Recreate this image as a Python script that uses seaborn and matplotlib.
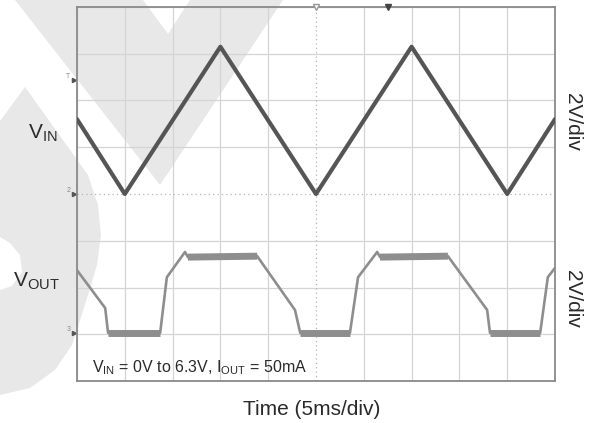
import numpy as np
import matplotlib.pyplot as plt
import matplotlib.transforms as mtransforms
import seaborn as sns

vin_time = [0, 5, 15, 25, 35, 45, 50]
vin_volts = [3.2, 0.0, 6.3, 0.0, 6.3, 0.0, 3.2]

vout_time = [0, 2.95, 3.25, 8.7, 9.4, 11.3, 11.6, 18.85, 22.8, 23.35,
             28.55, 29.4, 31.4, 31.7, 38.8, 42.9, 43.2, 48.45, 49.25, 50]
vout_volts = [2.68, 1.06, 0.0, 0.0, 2.38, 3.46, 3.24, 3.28, 0.98, 0.0,
              0.0, 2.38, 3.46, 3.24, 3.28, 0.98, 0.0, 0.0, 2.38, 2.78]

# escalas do osciloscopio
ms_per_div = 5
volts_per_div = 2
vin_ground = 4.0     # div
vout_ground = 1.03   # div
trigger_level = 6.44 # div
trigger_time = 32.5  # ms

sns.set_style("white")
plt.rcParams['font.family'] = ['Liberation Sans', 'DejaVu Sans']
plt.rcParams['mathtext.fontset'] = 'custom'
plt.rcParams['mathtext.rm'] = 'Liberation Sans'

W, H = 598, 423
fig = plt.figure(figsize=(W / 100, H / 100), dpi=100)

# marca d'agua clara no fundo (pixels da figura)
bg = fig.add_axes([0, 0, 1, 1], zorder=0)
bg.set_xlim(0, W)
bg.set_ylim(H, 0)
bg.axis('off')
chevron = [(15, 0), (143, 0), (168, 34), (190, 0), (283, 0), (160, 185)]
blob = [(25, 87), (88, 175), (98, 205), (101, 235), (97, 265), (88, 295),
        (80, 320), (72, 345), (55, 370), (30, 388), (0, 395), (0, 290),
        (12, 286), (22, 272), (20, 255), (10, 243), (0, 237), (0, 121)]
for poly in [chevron, blob]:
    xs, ys = zip(*poly)
    bg.fill(xs, ys, color='#e8e8e8', lw=0)

ax = fig.add_axes([77 / W, 1 - 381 / H, 478 / W, 374 / H], zorder=1)
ax.set_facecolor('none')

n_x, n_y = 10, 8
ax.set_xlim(0, n_x * ms_per_div)
ax.set_ylim(0, n_y)
xt = [i * ms_per_div for i in range(n_x + 1) if i != n_x // 2]
yt = [j for j in range(n_y + 1) if j != n_y // 2]
ax.set_xticks(xt)
ax.set_yticks(yt)
ax.grid(True, color='#d4d4d4', lw=0.9)
ax.axvline(n_x // 2 * ms_per_div, color='#b5b5b5', lw=0.9, ls=(0, (1, 2.5)))
ax.axhline(n_y // 2, color='#b5b5b5', lw=0.9, ls=(0, (1, 2.5)))
ax.tick_params(length=0, labelbottom=False, labelleft=False)
for s in ax.spines.values():
    s.set_color('#8a8a8a')
    s.set_linewidth(1.3)

# tracos
vin_div = np.array(vin_volts) / volts_per_div + vin_ground
vout_div = np.array(vout_volts) / volts_per_div + vout_ground

sns.lineplot(x=vin_time, y=vin_div, ax=ax, color='#555555', linewidth=3.0,
             zorder=4)
sns.lineplot(x=vout_time, y=vout_div, ax=ax, color='#8e8e8e', linewidth=1.9,
             zorder=3)
# patamares com ruido ficam mais grossos
for i in range(len(vout_time) - 1):
    if abs(vout_volts[i + 1] - vout_volts[i]) < 0.1 and vout_time[i + 1] - vout_time[i] > 2:
        ax.plot(vout_time[i:i + 2], vout_div[i:i + 2], color='#8e8e8e', lw=5.0,
                solid_capstyle='butt', zorder=3)

# marcadores do osciloscopio
top = mtransforms.blended_transform_factory(ax.transData, ax.transAxes)
ax.plot([n_x // 2 * ms_per_div], [1.0], marker='v', ms=5, mfc='white',
        mec='#999999', transform=top, clip_on=False, zorder=5)
ax.plot([trigger_time], [1.0], marker='v', ms=5, color='#444444',
        transform=top, clip_on=False, zorder=5)
left = mtransforms.blended_transform_factory(ax.transAxes, ax.transData)
for lvl, lab in [(trigger_level, 'T'), (vin_ground, '2'), (vout_ground, '3')]:
    ax.plot([-0.006], [lvl], marker='>', ms=3, color='#555555',
            transform=left, clip_on=False)
    ax.text(-0.018, lvl + 0.08, lab, transform=left, fontsize=5,
            color='#888888', ha='center', va='center')

txt = '#2a2a2a'
fig.text(43 / W, 1 - 133 / H, r'$\mathregular{V_{IN}}$', fontsize=15,
         ha='center', va='center', color=txt)
fig.text(36 / W, 1 - 281 / H, r'$\mathregular{V_{OUT}}$', fontsize=15,
         ha='center', va='center', color=txt)
fig.text(573 / W, 1 - 122 / H, '2V/div', rotation=-90, fontsize=15,
         ha='center', va='center', color=txt)
fig.text(573 / W, 1 - 299 / H, '2V/div', rotation=-90, fontsize=15,
         ha='center', va='center', color=txt)
fig.text(312 / W, 1 - 409 / H, 'Time (5ms/div)', fontsize=15,
         ha='center', va='center', color=txt)
fig.text(92 / W, 1 - 368 / H,
         r'$\mathregular{V_{IN}}$ = 0V to 6.3V, $\mathregular{I_{OUT}}$ = 50mA',
         fontsize=11.5, ha='left', va='center', color=txt)

plt.savefig("out.png", dpi=100)
